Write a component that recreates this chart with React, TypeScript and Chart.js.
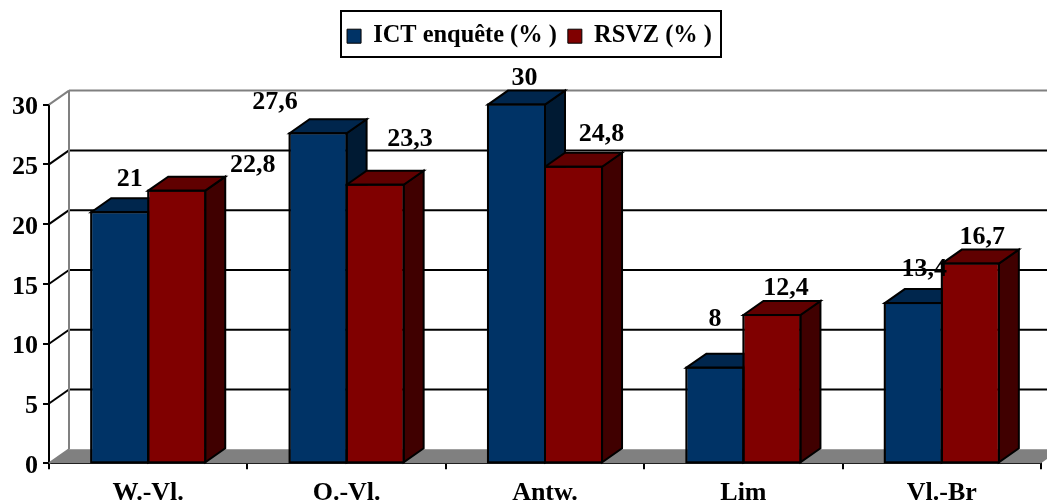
import React, { useEffect, useRef } from "react";
import { Chart, registerables } from "chart.js";

Chart.register(...registerables);

const categories = ["W.-Vl.", "O.-Vl.", "Antw.", "Lim", "Vl.-Br"];
const ictValues = [21, 27.6, 30, 8, 13.4];
const rsvzValues = [22.8, 23.3, 24.8, 12.4, 16.7];
const seriesNames = ["ICT enquête (% )", "RSVZ (% )"];
const yTicks = [0, 5, 10, 15, 20, 25, 30];

// label placement relative to the top centre of each bar's front face
const ictLabelOffsets = [[10, -33], [-43, -31], [8, -26], [0, -48], [11, -34]];
const rsvzLabelOffsets = [[76, -25], [35, -45], [28, -32], [14, -27], [12, -26]];

const DEPTH_X = 20;
const DEPTH_Y = -14;
const SERIF = "'Liberation Serif', 'Times New Roman', serif";
const shades = [
  { front: "#003366", top: "#00264D", side: "#001A33" },
  { front: "#800000", top: "#600000", side: "#400000" },
];

const poly = (ctx: CanvasRenderingContext2D, pts: number[][], fill: string | null, stroke: string | null, lw = 2) => {
  ctx.beginPath();
  pts.forEach((p, i) => (i ? ctx.lineTo(p[0], p[1]) : ctx.moveTo(p[0], p[1])));
  ctx.closePath();
  if (fill) {
    ctx.fillStyle = fill;
    ctx.fill();
  }
  if (stroke) {
    ctx.strokeStyle = stroke;
    ctx.lineWidth = lw;
    ctx.lineJoin = "miter";
    ctx.stroke();
  }
};

const line = (ctx: CanvasRenderingContext2D, x1: number, y1: number, x2: number, y2: number, color: string, lw = 2) => {
  ctx.beginPath();
  ctx.moveTo(x1, y1);
  ctx.lineTo(x2, y2);
  ctx.strokeStyle = color;
  ctx.lineWidth = lw;
  ctx.stroke();
};

const chart3d = {
  id: "chart3d",
  beforeLayout(chart: any) {
    const lg = chart.legend;
    if (lg && !lg.__patched) {
      const fit = lg.fit;
      lg.fit = function () {
        fit.call(this);
        this.height = 104.6 - 11;
      };
      lg.__patched = true;
    }
  },
  afterLayout(chart: any) {
    const lg = chart.legend;
    lg.left += 9;
    lg.right += 9;
    lg.top += 2;
  },
  beforeDatasetsDraw(chart: any) {
    const { ctx, scales, chartArea } = chart;
    const y = scales.y;
    const left = chartArea.left;
    const right = chartArea.right;
    const y0 = y.getPixelForValue(0);
    ctx.save();
    // floor
    poly(
      ctx,
      [[left, y0], [left + DEPTH_X, y0 + DEPTH_Y], [right + DEPTH_X, y0 + DEPTH_Y], [right, y0]],
      "#808080",
      null
    );
    // back wall grid and left wall diagonals
    yTicks.forEach((v) => {
      const py = y.getPixelForValue(v);
      const top = v === yTicks[yTicks.length - 1];
      if (v !== 0) line(ctx, left + DEPTH_X, py + DEPTH_Y, right + DEPTH_X, py + DEPTH_Y, top ? "#808080" : "#000000", 2);
      line(ctx, left, py, left + DEPTH_X, py + DEPTH_Y, top || v === 0 ? "#808080" : "#000000", 2);
    });
    line(ctx, left + DEPTH_X, y.getPixelForValue(30) + DEPTH_Y, left + DEPTH_X, y0 + DEPTH_Y, "#808080", 2);
    // bar depth faces
    categories.forEach((_, i) => {
      [0, 1].forEach((d) => {
        const el = chart.getDatasetMeta(d).data[i];
        const x1 = el.x - el.width / 2;
        const x2 = el.x + el.width / 2;
        const t = el.y;
        const b = el.base;
        poly(ctx, [[x2, t], [x2 + DEPTH_X, t + DEPTH_Y], [x2 + DEPTH_X, b + DEPTH_Y], [x2, b]], shades[d].side, "#000000");
        poly(ctx, [[x1, t], [x1 + DEPTH_X, t + DEPTH_Y], [x2 + DEPTH_X, t + DEPTH_Y], [x2, t]], shades[d].top, "#000000");
      });
    });
    ctx.restore();
  },
  afterDatasetsDraw(chart: any) {
    const { ctx } = chart;
    ctx.save();
    // crisp outline on the front faces
    ctx.strokeStyle = "#000000";
    ctx.lineWidth = 2;
    categories.forEach((_, i) => {
      [0, 1].forEach((d) => {
        const el = chart.getDatasetMeta(d).data[i];
        ctx.strokeRect(el.x - el.width / 2, el.y, el.width, el.base - el.y);
      });
    });
    ctx.fillStyle = "#000000";
    ctx.font = `bold 26px ${SERIF}`;
    ctx.textAlign = "center";
    ctx.textBaseline = "middle";
    [ictValues, rsvzValues].forEach((vals, d) => {
      const offs = d === 0 ? ictLabelOffsets : rsvzLabelOffsets;
      vals.forEach((v, i) => {
        const el = chart.getDatasetMeta(d).data[i];
        ctx.fillText(String(v).replace(".", ","), el.x + offs[i][0], el.y + offs[i][1]);
      });
    });
    ctx.restore();
  },
  afterDraw(chart: any) {
    const { ctx } = chart;
    ctx.save();
    ctx.strokeStyle = "#000000";
    ctx.lineWidth = 2;
    ctx.strokeRect(341, 11, 380, 46);
    ctx.restore();
  },
};

export default function App() {
  const ref = useRef<HTMLCanvasElement>(null);
  useEffect(() => {
    document.body.style.margin = "0";
    const chart = new Chart(ref.current as HTMLCanvasElement, {
      type: "bar",
      data: {
        labels: categories,
        datasets: [
          { label: seriesNames[0], data: ictValues, backgroundColor: shades[0].front, borderColor: "#000000", borderWidth: 1 },
          { label: seriesNames[1], data: rsvzValues, backgroundColor: shades[1].front, borderColor: "#000000", borderWidth: 1 },
        ],
      },
      options: {
        responsive: false,
        animation: false,
        layout: { padding: { top: 11, right: 6, left: 0, bottom: 0 } },
        datasets: { bar: { categoryPercentage: 0.575, barPercentage: 1 } },
        plugins: {
          tooltip: { enabled: false },
          legend: {
            display: true,
            position: "top",
            onClick: () => {},
            labels: {
              color: "#000000",
              font: { family: SERIF, size: 24.4, weight: "bold" },
              boxWidth: 14,
              boxHeight: 14,
              padding: 11,
            },
          },
        },
        scales: {
          x: {
            afterFit: (s: any) => {
              s.height = 39.7;
            },
            border: { color: "#000000", width: 2 },
            grid: { display: true, offset: true, drawOnChartArea: false, drawTicks: true, tickLength: 6, color: "#000000", lineWidth: 2 },
            ticks: { color: "#000000", font: { family: SERIF, size: 26, weight: "bold" }, padding: 8, maxRotation: 0 },
          },
          y: {
            min: 0,
            max: 30,
            afterFit: (s: any) => {
              s.width = 49;
            },
            afterBuildTicks: (s: any) => {
              s.ticks = yTicks.map((value) => ({ value }));
            },
            border: { color: "#000000", width: 2 },
            grid: { display: true, drawOnChartArea: false, drawTicks: true, tickLength: 6, color: "#000000", lineWidth: 2 },
            ticks: { color: "#000000", font: { family: SERIF, size: 26, weight: "bold" }, padding: 5, labelOffset: 3 },
          },
        },
      } as any,
      plugins: [chart3d as any],
    });
    return () => chart.destroy();
  }, []);
  return <canvas ref={ref} width={1047} height={503} style={{ display: "block" }} />;
}
